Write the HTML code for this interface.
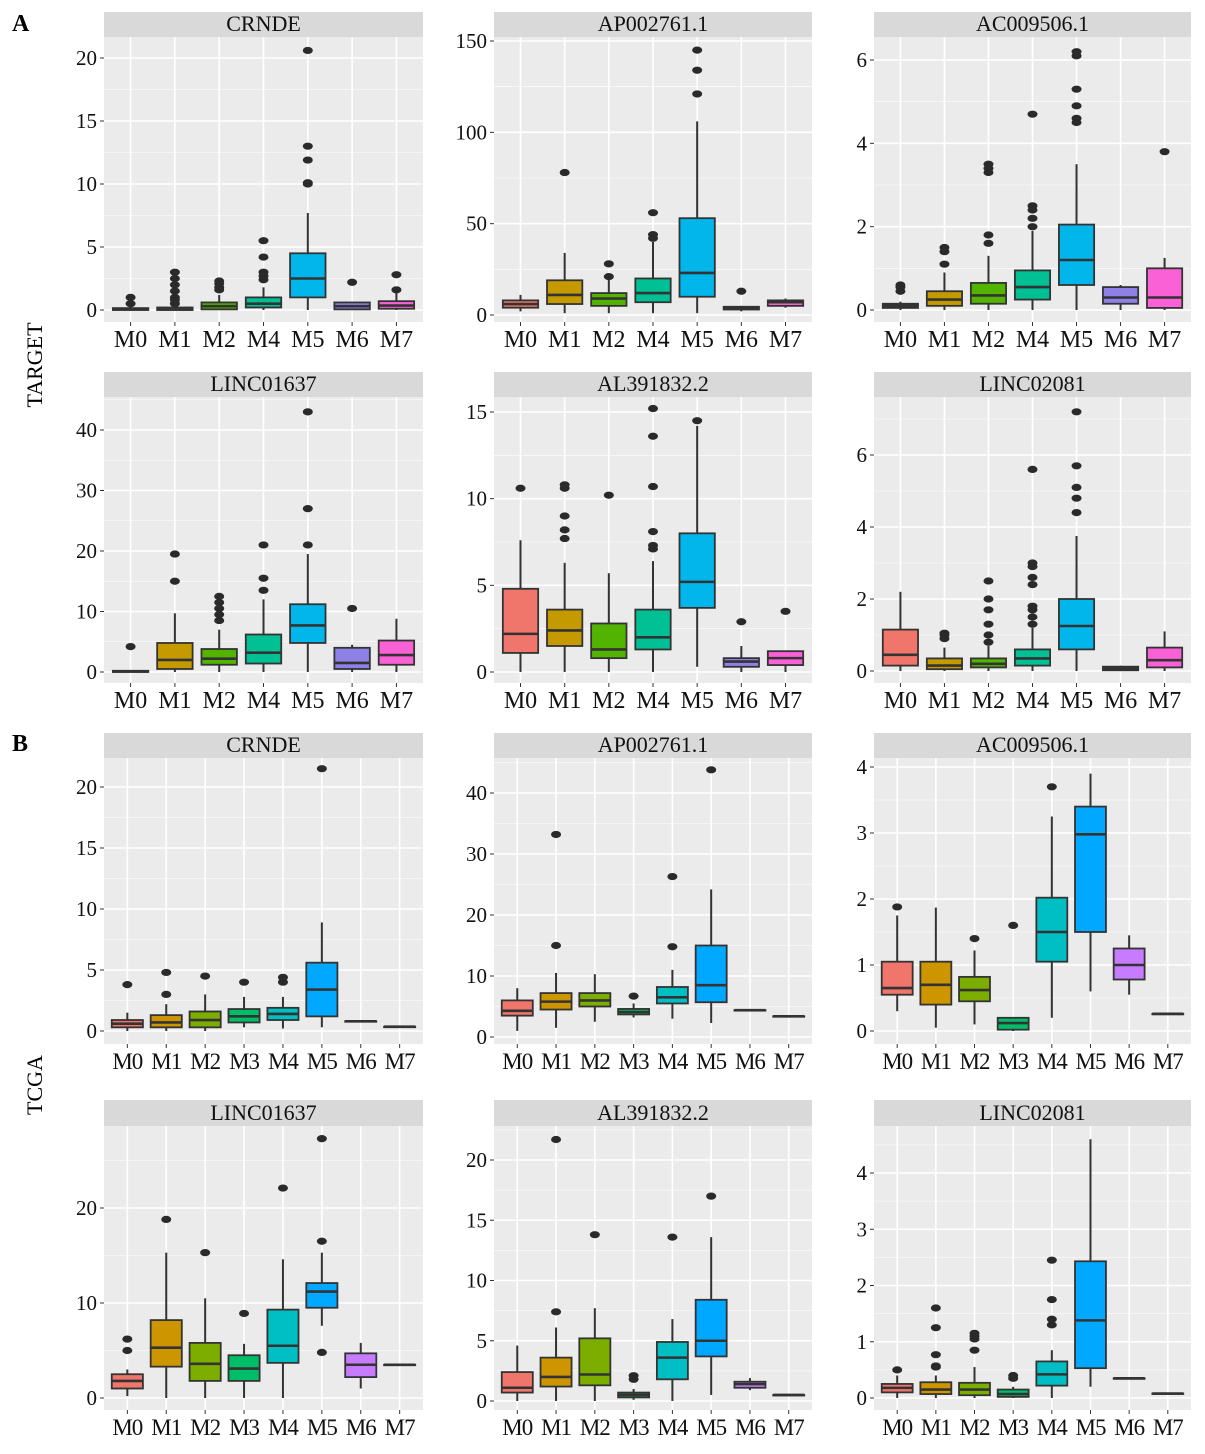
<!DOCTYPE html>
<html><head><meta charset="utf-8">
<style>
html,body{margin:0;padding:0;background:#fff;}
svg, svg text{font-family:"Liberation Serif",serif;}
</style></head>
<body>
<svg id="fig" width="1205" height="1449" viewBox="0 0 1205 1449" xmlns="http://www.w3.org/2000/svg" font-family="Liberation Serif, serif">
<text x="12" y="31" font-size="24" font-weight="bold" fill="#000">A</text>
<text x="12" y="751" font-size="24" font-weight="bold" fill="#000">B</text>
<text transform="translate(42,365) rotate(-90)" text-anchor="middle" font-size="22" fill="#000">TARGET</text>
<text transform="translate(42,1085) rotate(-90)" text-anchor="middle" font-size="22" fill="#000">TCGA</text>
</svg>
<script>
const TITLES=["CRNDE","AP002761.1","AC009506.1","LINC01637","AL391832.2","LINC02081","CRNDE","AP002761.1","AC009506.1","LINC01637","AL391832.2","LINC02081"];
const CATS_TARGET=["M0","M1","M2","M4","M5","M6","M7"];
const CATS_TCGA=["M0","M1","M2","M3","M4","M5","M6","M7"];
const YTICKS=[[0,5,10,15,20],[0,50,100,150],[0,2,4,6],[0,10,20,30,40],[0,5,10,15],[0,2,4,6],[0,5,10,15,20],[0,10,20,30,40],[0,1,2,3,4],[0,10,20],[0,5,10,15,20],[0,1,2,3,4]];
const Q1=[[0,0,0.05,0.2,1.0,0.05,0.1],[4,6,5,7,10,3,5],[0.05,0.1,0.15,0.25,0.6,0.15,0.05],[0,0.5,1.2,1.4,4.8,0.5,1.2],[1.1,1.5,0.8,1.3,3.7,0.3,0.4],[0.15,0.05,0.1,0.15,0.6,0.02,0.1],
[0.3,0.3,0.3,0.7,0.9,1.2,0.8,0.35],[3.5,4.5,5,3.7,5.5,5.7,4.4,3.4],[0.55,0.4,0.45,0.02,1.05,1.5,0.78,0.26],[1,3.3,1.8,1.8,3.7,9.5,2.2,3.5],[0.7,1.2,1.3,0.3,1.8,3.7,1.1,0.5],[0.1,0.07,0.05,0.02,0.22,0.53,0.35,0.08]];
const MED=[[0.05,0.05,0.3,0.5,2.5,0.3,0.35],[6,11,9,12,23,4,7],[0.1,0.25,0.35,0.55,1.2,0.3,0.3],[0.1,2,2.2,3.2,7.7,1.5,2.8],[2.2,2.4,1.3,2.0,5.2,0.6,0.8],[0.45,0.15,0.2,0.35,1.25,0.07,0.3],
[0.6,0.7,0.9,1.2,1.4,3.4,0.8,0.35],[4.3,5.8,6,4.1,6.5,8.5,4.4,3.4],[0.65,0.7,0.62,0.12,1.5,2.98,1.0,0.26],[1.8,5.3,3.6,3.1,5.5,11.2,3.5,3.5],[1.1,2,2.2,0.5,3.6,5,1.4,0.5],[0.18,0.15,0.15,0.07,0.42,1.38,0.35,0.08]];
const Q3=[[0.15,0.2,0.6,1.0,4.5,0.6,0.7],[8,19,12,20,53,4.5,8],[0.15,0.45,0.65,0.95,2.05,0.55,1.0],[0.2,4.8,3.8,6.2,11.2,4,5.2],[4.8,3.6,2.8,3.6,8.0,0.8,1.2],[1.15,0.35,0.35,0.6,2.0,0.12,0.65],
[0.9,1.3,1.6,1.8,1.9,5.6,0.8,0.35],[6,7.2,7.2,4.6,8.2,15,4.4,3.4],[1.05,1.05,0.82,0.2,2.02,3.4,1.25,0.26],[2.5,8.2,5.8,4.5,9.3,12.1,4.7,3.5],[2.4,3.6,5.2,0.7,4.9,8.4,1.6,0.5],[0.25,0.28,0.27,0.15,0.65,2.43,0.35,0.08]];
const LO=[[0,0,0,0,0,0,0],[2,1,1,1,1,2,4],[0,0,0,0,0,0,0],[0,0,0,0,0,0,0],[0,0,0,0,0.3,0,0],[0,0,0,0,0,0,0],
[0,0,0,0.3,0.2,0.3,0.8,0.35],[1,1.5,2.5,3.2,3,2.3,4.4,3.4],[0.3,0.05,0.1,0,0.2,0.6,0.55,0.26],[0.2,0,0,0,0,7.6,1,3.5],[0,0,0,0.1,0,0.5,0.9,0.5],[0,0,0,0,0,0.2,0.35,0.08]];
const HI=[[0.3,0.3,1.2,1.8,7.7,0.6,1.5],[11,34,20,40,106,5,9],[0.2,0.9,1.3,1.9,3.5,0.6,1.25],[0.3,9.7,7,12,19.5,4.5,8.8],[7.6,6.3,5.7,6.4,14.2,1.5,1.2],[2.2,0.65,0.7,1.2,3.75,0.15,1.1],
[1.5,2.2,3,2.8,2.8,8.9,0.8,0.35],[8,10.5,10.3,5.5,11,24.2,4.4,3.4],[1.75,1.87,1.22,0.2,3.25,3.9,1.45,0.26],[3,15.3,10.5,5.7,14.6,15.3,5.8,3.5],[4.6,6.1,7.7,1,6.8,13.6,1.9,0.5],[0.4,0.4,0.55,0.2,0.85,4.6,0.35,0.08]];
const OUT=[[[0.5,1.0],[0.5,0.8,1.0,1.5,2.0,2.5,3.0],[1.6,1.8,2.1,2.3],[2.4,2.7,3.0,4.2,5.5],[10,10.1,11.9,13,20.6],[2.2],[1.6,2.8]],
[[],[78],[21,28],[42,44,56],[121,134,145],[13],[]],
[[0.45,0.55,0.6],[1.1,1.4,1.5],[1.6,1.8,3.3,3.4,3.5],[2.0,2.2,2.4,2.5,4.7],[4.5,4.6,4.9,5.3,6.1,6.2],[],[3.8]],
[[4.2],[15,19.5],[8.5,9.5,10.5,11.5,12.5],[13.5,15.5,21],[21,27,43],[10.5],[]],
[[10.6],[7.7,8.2,9,10.6,10.8],[10.2],[7.1,7.3,8.1,10.7,13.6,15.2],[14.5],[2.9],[3.5]],
[[],[0.9,1.0,1.05],[0.8,1.0,1.3,1.7,2.0,2.5],[1.3,1.5,1.7,1.8,2.4,2.6,2.9,3.0,5.6],[4.4,4.8,5.1,5.7,7.2],[],[]],
[[3.8],[3,4.8],[4.5],[4],[4,4.4],[21.5],[],[]],
[[],[15,33.2],[],[6.7],[14.8,26.3],[43.8],[],[]],
[[1.88],[],[1.4],[1.6],[3.7],[],[],[]],
[[5,6.2],[18.8],[15.3],[8.9],[22.1],[4.8,16.5,27.3],[],[]],
[[],[7.4,21.7],[13.8],[1.8,2.1],[13.6],[17],[],[]],
[[0.5],[0.55,0.57,0.77,1.25,1.6],[0.85,1.05,1.1,1.15],[0.35,0.4],[1.3,1.4,1.75,2.45],[],[],[]]];

// layout (pixels) – not data
const COLX=[[104,423],[494,812],[874,1191]];
const ROWY=[[12,37,322],[372,397,683],[733,758,1044],[1100,1126,1410]];
const YCAL=[[310,20,58],[315,150,41],[310,6,60],[672,40,430],[672,15,412],[671,6,455],[1031,20,787],[1037,40,793],[1031,4,767],[1398,20,1208],[1401,20,1160],[1398,4,1173]];
const COL7=["#F0766C","#C49A00","#53B400","#00C094","#00B6EB","#8E80E6","#FB61D7"];
const COL8=["#F0766C","#CD9600","#7CAE00","#00BE67","#00BFC4","#00A9FF","#C77CFF","#FF61CC"];
const NS="http://www.w3.org/2000/svg";
const FF="Liberation Serif, serif";
const svg=document.getElementById('fig');
function mk(tag,attrs,parent){const e=document.createElementNS(NS,tag);for(const k in attrs)e.setAttribute(k,attrs[k]);(parent||svg).appendChild(e);return e;}

for(let p=0;p<12;p++){
  const c=p%3, r=Math.floor(p/3);
  const [x0,x1]=COLX[c]; const [st,pt,pb]=ROWY[r];
  const cats=p<6?CATS_TARGET:CATS_TCGA; const cols=p<6?COL7:COL8;
  const n=cats.length; const step=(x1-x0)/(n-1+1.2);
  const xs=i=>x0+step*(0.6+i);
  const [y0,vr,yr]=YCAL[p]; const k=(y0-yr)/vr;
  const ys=v=>y0-v*k;
  const g=mk('g',{});
  
  
  const strip=mk('rect',{x:x0,y:st,width:x1-x0,height:pt-st,fill:'#D9D9D9'},g);
  
  
  const stt=mk('text',{x:(x0+x1)/2,y:pt-6,'text-anchor':'middle','font-size':'22','font-family':FF,fill:'#111'},g);
  stt.textContent=TITLES[p];
  
  
  const bg=mk('rect',{x:x0,y:pt,width:x1-x0,height:pb-pt,fill:'#EBEBEB'},g);
  
  
  const tk=YTICKS[p]; const d=tk[1]-tk[0];
  for(let v=tk[0]-d/2; ys(v)>pt; v+=d/2){
    const yy=ys(v); if(yy>pb) continue;
    const major=tk.some(t=>Math.abs(t-v)<1e-9);
    const gl=mk('line',{x1:x0,x2:x1,y1:yy,y2:yy,stroke:'#fff','stroke-width':major?1.6:0.6},g);
    
    
  }
  for(let i=0;i<n;i++){
    const vl=mk('line',{x1:xs(i),x2:xs(i),y1:pt,y2:pb,stroke:'#fff','stroke-width':1.6},g);
    
    
  }
  tk.forEach(t=>{
    const yy=ys(t);
    const tm=mk('line',{x1:x0-4,x2:x0,y1:yy,y2:yy,stroke:'#333','stroke-width':1},g);
    
    
    const tl=mk('text',{x:x0-7,y:yy+7,'text-anchor':'end','font-size':'21','font-family':FF,fill:'#111'},g);
    tl.textContent=t;
    
    
  });
  const bw=step*0.8;
  for(let i=0;i<n;i++){
    const cx=xs(i);
    const tm=mk('line',{x1:cx,x2:cx,y1:pb,y2:pb+4,stroke:'#333','stroke-width':1},g);
    
    
    const xl=mk('text',{x:cx,y:pb+25,'text-anchor':'middle','font-size':n>7?'23':'24','font-family':FF,fill:'#111','letter-spacing':n>7?'-1':'0'},g);
    xl.textContent=cats[i];
    
    
    const bx=mk('g',{},g);
    
    
    mk('line',{x1:cx,x2:cx,y1:ys(HI[p][i]),y2:ys(Q3[p][i]),stroke:'#333','stroke-width':2},bx);
    mk('line',{x1:cx,x2:cx,y1:ys(Q1[p][i]),y2:ys(LO[p][i]),stroke:'#333','stroke-width':2},bx);
    const yt=ys(Q3[p][i]), yb=ys(Q1[p][i]);
    mk('rect',{x:cx-bw/2,y:yt,width:bw,height:Math.max(yb-yt,0.5),fill:cols[i],stroke:'#333','stroke-width':1.8},bx);
    mk('line',{x1:cx-bw/2,x2:cx+bw/2,y1:ys(MED[p][i]),y2:ys(MED[p][i]),stroke:'#333','stroke-width':2.6},bx);
    OUT[p][i].forEach(o=>{
      const e=mk('ellipse',{cx:cx,cy:ys(o),rx:5,ry:3.6,fill:'#2a2a2a'},bx);
      
      
    });
  }
}
</script>
</body></html>
